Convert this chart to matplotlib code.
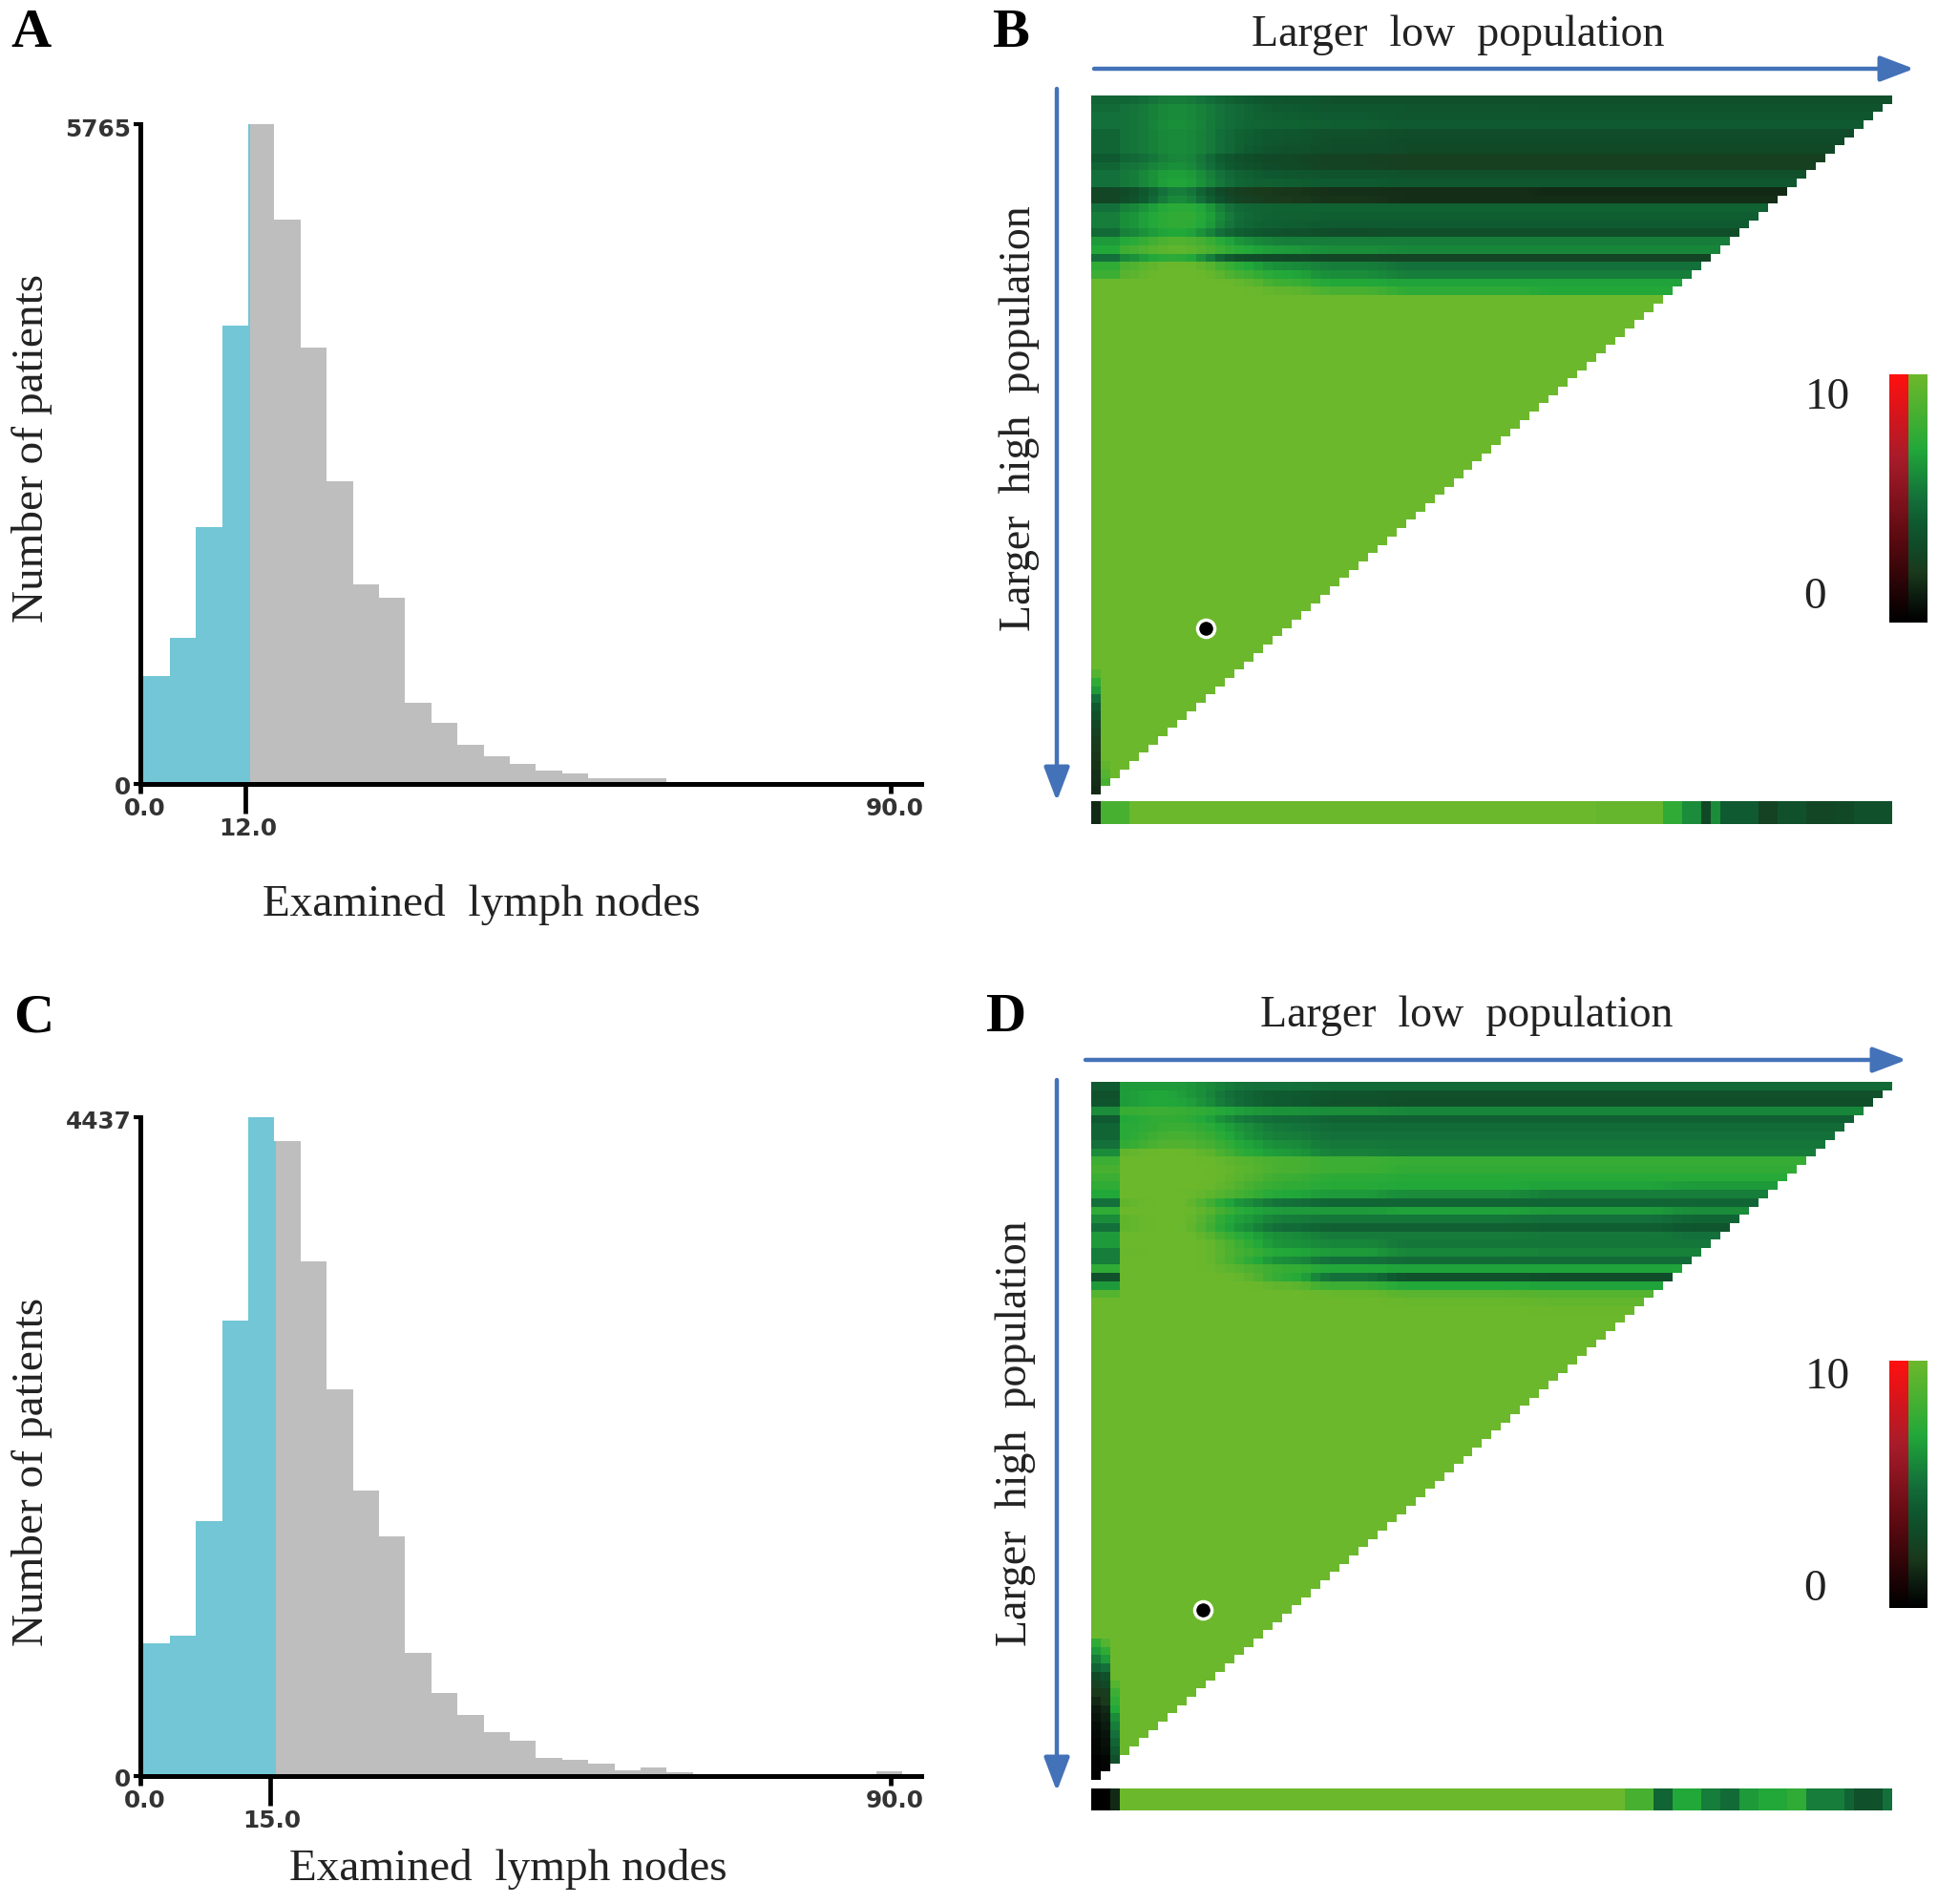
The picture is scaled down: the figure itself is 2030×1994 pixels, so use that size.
import numpy as np
import matplotlib
matplotlib.use('Agg')
import matplotlib.pyplot as plt
from matplotlib.colors import LinearSegmentedColormap

W, H = 2031, 1994

# histogram counts per bin
hist_a = [945, 1275, 2243, 4008, 5765, 4929, 3810, 2643, 1742, 1625, 707, 536, 338, 242, 173,
          117, 89, 50, 50, 50, 19, 19, 19, 19, 3, 3, 3, 3, 15]
hist_c = [895, 943, 1714, 3067, 4437, 4270, 3462, 2603, 1921, 1610, 829, 560, 413, 293, 235,
          122, 111, 81, 39, 60, 28, 15, 15, 15, 3, 3, 3, 3, 32]
bin_start = 0.34
bin_width = 3.14
split_a = 13.1
split_c = 16.2
tick_a = [0, 12.6, 90]
tick_c = [0, 15.5, 90]
ticklabels_a = ['0.0', '12.0', '90.0']
ticklabels_c = ['0.0', '15.0', '90.0']

# heatmap: column groups (cells per group) and levels 0-10 for the rows that are not flat
col_groups = [3, 2, 2, 2, 2, 2, 2, 3, 5, 8, 15, 15, 23]
n_cells = 84

rows_b = [
    [4.5, 4.5, 5, 5.5, 5.5, 5, 4.5, 4, 3.7, 3.5, 3.5, 3.5, 3.5],
    [4.8, 5, 5.5, 6, 6, 5.5, 5, 4.5, 4, 3.8, 3.7, 3.6, 3.6],
    [5, 5, 5.5, 6, 6, 5.5, 5, 4.5, 4.2, 4, 3.8, 3.8, 3.8],
    [5, 5, 5.5, 6.2, 6.2, 5.5, 5, 4.5, 4.4, 4.2, 4, 4, 4],
    [4.5, 5, 5.5, 6, 6, 5.5, 4.8, 4.2, 3.8, 3.4, 3.2, 3.2, 3.2],
    [4.5, 5, 5.5, 6, 6, 5.5, 4.8, 4.2, 3.7, 3.3, 3.1, 3.1, 3.1],
    [4.5, 5, 5.5, 6, 6, 5.5, 4.8, 4, 3.5, 3.2, 3, 3, 3],
    [4, 4.5, 5, 5.8, 6, 5, 3.8, 3.2, 2.9, 2.5, 2.4, 2.4, 2.4],
    [4.5, 5, 5.5, 6.2, 6.2, 5.2, 4, 3.5, 3, 2.6, 2.4, 2.4, 2.4],
    [5, 5.2, 6, 6.8, 6.8, 5.8, 4.8, 4.2, 3.8, 3.6, 3.5, 3.5, 3.5],
    [5, 5.2, 6, 7, 7, 6, 5, 4.4, 4.2, 4, 3.9, 3.9, 3.9],
    [2.8, 3, 4, 5.5, 5.8, 4, 2.6, 2.2, 1.9, 1.7, 1.6, 1.5, 1.5],
    [2.8, 3.2, 4.2, 6, 6.2, 4.5, 3, 2.4, 2, 1.8, 1.6, 1.6, 1.6],
    [5, 5.5, 6.5, 7.4, 7.5, 7, 5, 4.5, 4.4, 4.4, 4.4, 4.4, 4.4],
    [5.5, 6, 7, 7.5, 7.8, 7.2, 5.5, 4.6, 4.3, 4.2, 4.2, 4.2, 4.2],
    [5.5, 6, 7, 7.5, 7.8, 7, 5.2, 4.5, 4.2, 4, 4, 4, 4],
    [4.8, 5.5, 6.5, 7, 7.2, 6, 4.5, 4, 3.5, 3.2, 3.3, 3.3, 3.3],
    [6.5, 7, 8, 9, 9, 8.2, 7, 6, 5.5, 5.5, 5.5, 5.5, 5.5],
    [7, 8, 9, 9.5, 9.5, 8.8, 7.8, 7, 6.5, 6, 5.8, 5.8, 5.8],
    [5, 5.8, 7, 7.5, 7.5, 6, 4, 3.2, 3, 2.8, 2.7, 2.7, 2.7],
    [7.5, 8.5, 9.5, 10, 10, 9.5, 8, 7, 6, 5.5, 5, 5, 5],
    [8, 9, 10, 10, 10, 10, 9, 8, 7, 6, 5.5, 5.5, 5.5],
    [10, 10, 10, 10, 10, 10, 10, 9.5, 8, 7, 6.8, 6.8, 6.8],
    [10, 10, 10, 10, 10, 10, 10, 10, 9.5, 8.5, 7.5, 7, 7],
]
rows_d = [
    [4, 6.5, 6.5, 6.5, 6.5, 6, 5.5, 5, 5, 4.8, 4.8, 4.8, 4.8],
    [3.5, 6.5, 7, 7, 6.5, 6, 5, 4.5, 4, 3.6, 3.4, 3.4, 3.4],
    [3.7, 6.5, 7, 7, 6.8, 6.2, 5.2, 4.6, 4, 3.5, 3.3, 3.3, 3.3],
    [6, 7.8, 8, 8, 7.8, 7.5, 7, 6.5, 6.2, 6, 5.8, 5.8, 5.8],
    [4, 7, 7.5, 7.8, 7.5, 7, 6, 5.2, 4.8, 4.4, 4.3, 4.3, 4.3],
    [4.5, 7.2, 7.5, 8, 8, 7.5, 6.8, 6, 5.2, 4.8, 4.8, 4.8, 4.8],
    [4.5, 7.2, 8, 8.5, 8.5, 8, 7.2, 6.2, 5.5, 5, 5, 5, 5],
    [5, 7.5, 8.5, 9, 9, 8.5, 7.8, 6.8, 6, 5.3, 5.2, 5.2, 5.2],
    [6, 9.5, 10, 10, 10, 9.5, 8.5, 7.2, 6.5, 5.6, 5.4, 5.4, 5.4],
    [8, 10, 10, 10, 10, 10, 9.5, 9, 8.5, 8, 7.8, 7.8, 7.8],
    [8.5, 10, 10, 10, 10, 10, 9.8, 9.2, 8.5, 8, 7.6, 7.6, 7.6],
    [8, 10, 10, 10, 10, 10, 9.8, 9, 8, 7.4, 7.2, 7.2, 7.2],
    [7.5, 10, 10, 10, 10, 10, 9.5, 8.5, 7.6, 7.2, 7, 6.8, 6.5],
    [7, 10, 10, 10, 10, 9.5, 9, 8, 7, 6.5, 6, 5.5, 5.5],
    [5, 9.5, 10, 10, 10, 8.5, 7, 6, 5, 4.5, 4.5, 4.5, 4.5],
    [7.5, 10, 10, 10, 10, 9.5, 8, 7, 6.5, 6.5, 6.8, 6.5, 6],
    [6, 9.5, 10, 10, 10, 9, 7, 6.5, 5.5, 5.2, 5.2, 5, 4.5],
    [5, 9.5, 10, 10, 10, 8.5, 7, 6, 4.8, 4.3, 4.3, 4.2, 3.8],
    [6.5, 10, 10, 10, 10, 9.5, 8, 7, 6, 5.4, 5.4, 5.3, 5],
    [6.5, 10, 10, 10, 10, 10, 9, 7.5, 6.2, 5.8, 5.2, 5.2, 5.2],
    [5.5, 9.8, 10, 10, 10, 10, 9, 8, 7, 6.5, 5.8, 5.6, 5.6],
    [5.5, 10, 10, 10, 10, 10, 9, 7.5, 6, 5, 4.8, 4.8, 4.8],
    [7.5, 10, 10, 10, 10, 10, 9.6, 8.8, 7.8, 7, 6.8, 6.8, 6.8],
    [3.5, 10, 10, 10, 10, 10, 10, 9.5, 7.5, 5, 3.5, 3.2, 3.2],
    [6.5, 10, 10, 10, 10, 10, 10, 10, 9.5, 8, 7, 6.8, 6.8],
    [9, 10, 10, 10, 10, 10, 10, 10, 10, 9.8, 9.2, 9, 8.8],
    [10, 10, 10, 10, 10, 10, 10, 10, 10, 10, 9.8, 9.6, 9.5],
    [10, 10, 10, 10, 10, 10, 10, 10, 10, 10, 10, 9.9, 9.8],
]

# dark strip at the lower left corner: first row, then levels for columns 0, 1, 2
corner_start_b = 69
corner_b0 = [9, 7.5, 6.5, 5, 4, 3.5, 3, 2.5, 2.2, 2, 1.9, 1.8, 1.7, 1.6, 1.5]
corner_b1 = [10, 10, 10, 10, 10, 10, 10, 10, 10, 10, 10, 9.5, 9, 8.5]
corner_start_d = 67
corner_d0 = [7.5, 6.5, 5.5, 4.5, 3, 2.5, 2, 1.5, 1, 0.8, 0.5, 0.4, 0.3, 0.2, 0, 0, 0]
corner_d1 = [9, 7.5, 6.5, 5, 3.5, 3, 2.2, 2, 1.5, 1.2, 1, 0.8, 0.6, 0.5, 0.3, 0.2]
corner_d2 = [10, 10, 10, 10, 10, 9, 8, 7.5, 7, 6, 5.5, 5, 4.5, 4, 3.5]

# marginal strips under the heatmaps
strip_b_levels = [1.5, 8.5, 10, 9.7, 7.5, 6, 3, 6, 4, 2.5, 3.5, 2.8, 3, 3.5]
strip_b_counts = [1, 3, 49, 7, 2, 2, 1, 1, 4, 2, 3, 3, 2, 4]
strip_d_levels = [0, 1.5, 10, 8.5, 4.5, 7, 5.5, 4.8, 6.5, 7, 7.5, 5.5, 4.5, 3.5, 5]
strip_d_counts = [2, 1, 53, 3, 2, 3, 2, 2, 2, 3, 2, 4, 1, 3, 1]

# marked cell (column, row)
marker_b = (12, 64)
marker_d = (11.7, 63.6)

green_map = LinearSegmentedColormap.from_list('green_map', [
    (0.0, '#000000'), (0.1, '#0c1c10'), (0.2, '#1a3a1c'), (0.3, '#114a28'), (0.4, '#0f5a30'),
    (0.5, '#14703a'), (0.6, '#1a8c3a'), (0.7, '#22a83a'), (0.8, '#3cae34'), (1.0, '#6cb82c')])
red_map = LinearSegmentedColormap.from_list('red_map', ['#000000', '#5a0a10', '#a81c2a', '#ff1010'])

plt.rcParams['font.family'] = ['Liberation Serif', 'DejaVu Sans']
fig = plt.figure(figsize=(W / 100, H / 100), dpi=100, facecolor='white')


def px_axes(left, top, right, bottom):
    return fig.add_axes([left / W, 1 - bottom / H, (right - left) / W, (bottom - top) / H])


def draw_hist(box, counts, split, ticks, ticklabels, low_y, ymax_label):
    ax = px_axes(*box)
    counts = np.array(counts)
    lefts = bin_start + bin_width * np.arange(len(counts))
    rights = lefts + bin_width
    blue_w = np.clip(split - lefts, 0, bin_width)
    gray_l = np.maximum(lefts, split)
    gray_w = np.clip(rights - gray_l, 0, bin_width)
    ax.bar(lefts, counts, width=blue_w, align='edge', color='#72c6d6', linewidth=0)
    ax.bar(gray_l, counts, width=gray_w, align='edge', color='#bebebe', linewidth=0)
    ax.set_xlim(0, 93.7)
    ax.set_ylim(0, counts.max())
    for s in ['top', 'right']:
        ax.spines[s].set_visible(False)
    for s in ['left', 'bottom']:
        ax.spines[s].set_linewidth(3.6)
    ax.set_xticks(ticks)
    ax.set_yticks([0, counts.max()])
    ax.set_xticklabels([])
    ax.set_yticklabels([])
    ax.tick_params(axis='y', length=5, width=3)
    ax.tick_params(axis='x', length=7.5, width=3.4)
    ax.xaxis.get_major_ticks()[1].tick1line.set_markersize(22)
    # labels are staggered, so they are placed one by one
    lab_style = dict(fontsize=17.8, fontweight='bold', family=['DejaVu Sans'], color='#333333',
                     annotation_clip=False, va='center', textcoords='offset pixels')
    for t, lab, dy in zip(ticks, ticklabels, low_y):
        ax.annotate(lab, (t, 0), xytext=(4 if t != ticks[1] else 2, -dy), ha='center', **lab_style)
    ax.annotate(ymax_label, (0, counts.max()), xytext=(-10, -6), ha='right', **lab_style)
    ax.annotate('0', (0, 0), xytext=(-10, -4), ha='right', **lab_style)
    return ax


def build_matrix(rows, corner_start, corners):
    mat = np.full((n_cells, n_cells), 10.0)
    kernel = np.array([1, 2, 3, 2, 1]) / 9
    for r, row in enumerate(rows):
        line = np.repeat(row, col_groups).astype(float)
        # soften the steps between column groups, the left dark columns keep their edge
        padded = np.r_[[line[3]] * 2, line[3:], [line[-1]] * 2]
        line[3:] = np.convolve(padded, kernel, mode='valid')
        mat[r, :] = line
    for c, col in enumerate(corners):
        for k, v in enumerate(col):
            mat[corner_start + k, c] = v
    # cells past the diagonal stay empty
    for r in range(n_cells):
        mat[r, n_cells - r:] = np.nan
    return mat


def draw_heat(box, strip_box, mat, levels, counts, marker):
    ax = px_axes(*box)
    cmap = green_map.copy()
    cmap.set_bad('white')
    ax.imshow(mat, cmap=cmap, vmin=0, vmax=10, aspect='auto', interpolation='nearest',
              extent=(0, n_cells, n_cells, 0))
    ax.plot(*marker, 'o', ms=13, mfc='black', mec='white', mew=2.5)
    ax.axis('off')
    st = px_axes(*strip_box)
    st.imshow(np.repeat(levels, counts)[None, :], cmap=green_map, vmin=0, vmax=10, aspect='auto',
              interpolation='nearest')
    st.axis('off')


def draw_scale(box):
    ax = px_axes(*box)
    grad = np.linspace(10, 0, 120)[:, None]
    ax.imshow(grad, cmap=red_map, vmin=0, vmax=10, aspect='auto', extent=(0, 1, 0, 1))
    ax.imshow(grad, cmap=green_map, vmin=0, vmax=10, aspect='auto', extent=(1, 2, 0, 1))
    ax.set_xlim(0, 2)
    ax.set_ylim(0, 1)
    ax.axis('off')


draw_hist((147.5, 130, 965, 821), hist_a, split_a, tick_a, ticklabels_a, [26, 47, 26], '5765')
draw_hist((147.5, 1169.5, 965, 1860), hist_c, split_c, tick_c, ticklabels_c, [26, 47, 26], '4437')

draw_heat((1143, 100, 1982, 832), (1143, 839, 1982, 863),
          build_matrix(rows_b, corner_start_b, [corner_b0, corner_b1]),
          strip_b_levels, strip_b_counts, marker_b)
draw_heat((1143, 1133, 1982, 1864), (1143, 1873, 1982, 1896),
          build_matrix(rows_d, corner_start_d, [corner_d0, corner_d1, corner_d2]),
          strip_d_levels, strip_d_counts, marker_d)

draw_scale((1979, 392, 2019, 652))
draw_scale((1979, 1425, 2019, 1684))

# text and arrows on a pixel overlay
ov = fig.add_axes([0, 0, 1, 1], facecolor='none')
ov.set_xlim(0, W)
ov.set_ylim(H, 0)
ov.axis('off')

serif = dict(fontsize=34, color='#222222', ha='center', va='center')
serif_small = dict(serif, fontsize=33)
for x, y, s in [(32, 35, 'A'), (1058, 35, 'B'), (35, 1066, 'C'), (1054, 1066, 'D')]:
    ov.text(x, y, s, fontsize=42, fontweight='bold', color='black', ha='center', va='center')
for y in [469, 1541]:
    ov.text(34, y, 'Number of patients', rotation=90, **serif)
ov.text(504, 947, 'Examined  lymph nodes', **serif)
ov.text(532, 1957, 'Examined  lymph nodes', **serif)
ov.text(1527, 37, 'Larger  low  population', **serif_small)
ov.text(1536, 1064, 'Larger  low  population', **serif_small)
ov.text(1068, 438, 'Larger  high  population', rotation=90, **serif_small)
ov.text(1064, 1501, 'Larger  high  population', rotation=90, **serif_small)
for x, y, s in [(1914, 417, '10'), (1901, 626, '0'), (1914, 1443, '10'), (1901, 1665, '0')]:
    ov.text(x, y, s, fontsize=34, color='#222222', ha='center', va='center')

arrow = dict(arrowstyle='-|>,head_length=1.08,head_width=0.41', color='#4472b8', lw=3.2,
             shrinkA=0, shrinkB=0, mutation_scale=20)
ov.annotate('', xy=(2005, 72), xytext=(1146, 72), arrowprops=arrow)
ov.annotate('', xy=(1997, 1110), xytext=(1137, 1110), arrowprops=arrow)
ov.annotate('', xy=(1107, 839), xytext=(1107, 93), arrowprops=arrow)
ov.annotate('', xy=(1107, 1876), xytext=(1107, 1131), arrowprops=arrow)

fig.savefig('out.png', dpi=100, facecolor='white')
